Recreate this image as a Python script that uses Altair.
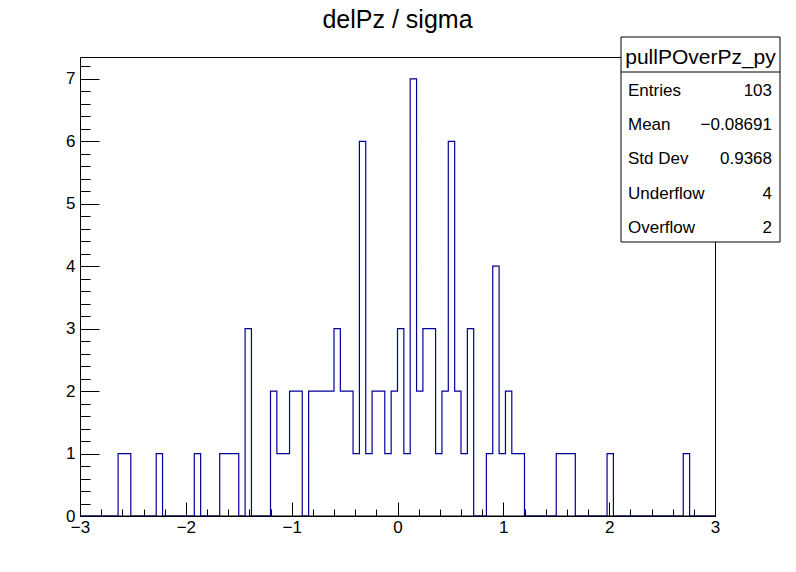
import altair as alt
import pandas as pd
import numpy as np

# ---- data (100 bins from -3 to 3) ----
counts = [
    0, 0, 0, 0, 0, 0, 1, 1, 0, 0,
    0, 0, 1, 0, 0, 0, 0, 0, 1, 0,
    0, 0, 1, 1, 1, 0, 3, 0, 0, 0,
    2, 1, 1, 2, 2, 0, 2, 2, 2, 2,
    3, 2, 2, 1, 6, 1, 2, 2, 1, 2,
    3, 1, 7, 2, 3, 3, 1, 2, 6, 2,
    1, 3, 0, 0, 1, 4, 1, 2, 1, 1,
    0, 0, 0, 0, 0, 1, 1, 1, 0, 0,
    0, 0, 0, 1, 0, 0, 0, 0, 0, 0,
    0, 0, 0, 0, 0, 1, 0, 0, 0, 0,
]
x_range = [-3.0, 3.0]
y_range = [0.0, 7.35]
x_major = [-3, -2, -1, 0, 1, 2, 3]
y_major = [0, 1, 2, 3, 4, 5, 6, 7]
x_minor = [round(v, 2) for v in np.arange(-3.0, 3.0001, 0.2)]
y_minor = [round(v, 2) for v in np.arange(0.0, 7.30, 0.2)]

title_text = "delPz / sigma"
stats_title = "pullPOverPz_py"
stats_names = ["Entries", "Mean", "Std Dev", "Underflow", "Overflow"]
stats_values = ["103", "\u22120.08691", "0.9368", "4", "2"]

# ---- build ----
W, H = 635, 459
FONT = "Liberation Sans"
edges = np.linspace(x_range[0], x_range[1], len(counts) + 1)
hist_df = pd.DataFrame({"x": edges, "y": counts + [counts[-1]]})

xs = alt.Scale(domain=x_range, nice=False, zero=False)
ys = alt.Scale(domain=y_range, nice=False, zero=False)

line = alt.Chart(hist_df).mark_line(
    interpolate="step-after", color="#000099", strokeWidth=1.2
).encode(
    x=alt.X("x:Q", scale=xs, axis=alt.Axis(
        orient="bottom", values=x_major, ticks=False, tickSize=0, domain=False,
        grid=False, labelFont=FONT, labelFontSize=17, labelColor="black",
        labelPadding=3, format="d", title=None, labelFlush=False, labelOverlap=False)),
    y=alt.Y("y:Q", scale=ys, axis=alt.Axis(
        orient="left", values=y_major, ticks=False, tickSize=0, domain=False,
        grid=False, labelFont=FONT, labelFontSize=17, labelColor="black",
        labelPadding=5, format="d", title=None, labelOverlap=False)),
)


def tick_layer(xv, yv, xlen, ylen):
    return alt.Chart(hist_df).mark_line(opacity=0).encode(
        x=alt.X("x:Q", scale=xs, axis=alt.Axis(
            orient="bottom", values=xv, ticks=True, tickSize=xlen, offset=-xlen,
            labels=False, domain=False, grid=False, title=None,
            tickColor="black", tickWidth=1)),
        y=alt.Y("y:Q", scale=ys, axis=alt.Axis(
            orient="left", values=yv, ticks=True, tickSize=ylen, offset=-ylen,
            labels=False, domain=False, grid=False, title=None,
            tickColor="black", tickWidth=1)),
    )


major_ticks = tick_layer(x_major, y_major, 14, 19)
minor_ticks = tick_layer(x_minor, y_minor, 7, 10)

baseline = alt.Chart(hist_df).mark_rule(color="black", strokeWidth=1).encode(
    y=alt.Y("z:Q", scale=ys, axis=None)
).transform_aggregate(z="min(y)")

one = pd.DataFrame({"a": [0]})

title_mark = alt.Chart(one).mark_text(
    font=FONT, fontSize=25, align="center", baseline="alphabetic", color="black"
).encode(x=alt.value(W / 2), y=alt.value(-29), text=alt.value(title_text))

box = alt.Chart(one).mark_rect(fill="white", stroke="black", strokeWidth=1).encode(
    x=alt.value(541), x2=alt.value(700), y=alt.value(-20), y2=alt.value(185)
)
divider = alt.Chart(one).mark_rule(color="black", strokeWidth=1).encode(
    x=alt.value(541), x2=alt.value(700), y=alt.value(15)
)
stats_title_mark = alt.Chart(one).mark_text(
    font=FONT, fontSize=21, align="center", baseline="alphabetic", color="black"
).encode(x=alt.value(620.5), y=alt.value(7), text=alt.value(stats_title))

stat_layers = []
for i, (n, v) in enumerate(zip(stats_names, stats_values)):
    yb = 39 + 34.2 * i
    stat_layers.append(alt.Chart(one).mark_text(
        font=FONT, fontSize=17, align="left", baseline="alphabetic", color="black"
    ).encode(x=alt.value(548), y=alt.value(yb), text=alt.value(n)))
    stat_layers.append(alt.Chart(one).mark_text(
        font=FONT, fontSize=17, align="right", baseline="alphabetic", color="black"
    ).encode(x=alt.value(692), y=alt.value(yb), text=alt.value(v)))

chart = alt.layer(
    line, major_ticks, minor_ticks, baseline, title_mark, box, divider,
    stats_title_mark, *stat_layers
).resolve_axis(x="independent", y="independent").properties(
    width=W, height=H, autosize="none",
    padding={"left": 80, "top": 57, "right": 81, "bottom": 56},
    background="white",
).configure_view(stroke="black", strokeWidth=1)

chart.save("out.html", embed_options={"renderer": "svg", "actions": False})
